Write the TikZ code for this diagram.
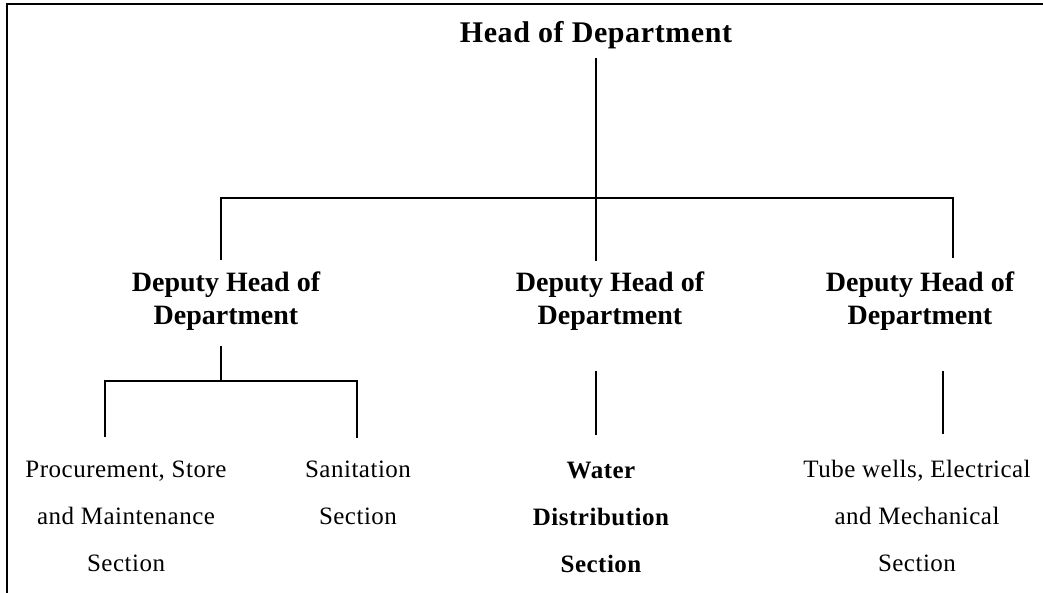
\documentclass[tikz,border=0pt]{standalone}
\usepackage{fontspec}
\setmainfont{Liberation Serif}
\begin{document}
\begin{tikzpicture}[x=1pt, y=-1pt,
  conn/.style={line width=1.8pt},
  headbox/.style={font=\bfseries\fontsize{30}{36}\selectfont\addfontfeature{LetterSpace=2}},
  deputybox/.style={font=\bfseries\fontsize{28}{33}\selectfont, align=center},
  secbox/.style={font=\fontsize{25}{47}\selectfont\addfontfeature{LetterSpace=2}, align=center},
  secboldbox/.style={secbox, font=\bfseries\fontsize{25}{47}\selectfont\addfontfeature{LetterSpace=2}}]
  \useasboundingbox (0,0) rectangle (1043,593);

  % Frame (only top and left edges show)
  \draw[line width=1.6pt] (7,593) -- (7,4) -- (1043,4);

  % Head of department
  \node[headbox, anchor=base] (head) at (596,43) {Head of Department};

  % Deputies
  \node[deputybox] (dep1) at (226,301) {Deputy Head of\\Department};
  \node[deputybox] (dep2) at (610,301) {Deputy Head of\\Department};
  \node[deputybox] (dep3) at (920,301) {Deputy Head of\\Department};

  % Sections
  \node[secbox] (sec1) at (126,516) {Procurement, Store\\and Maintenance\\Section};
  \node[secbox] (sec2) at (358,493) {Sanitation\\Section};
  \node[secboldbox] (sec3) at (601,517) {Water\\Distribution\\Section};
  \node[secbox] (sec4) at (917,516) {Tube wells, Electrical\\and Mechanical\\Section};

  % Bus under the head
  \coordinate (busL) at (221,198);
  \coordinate (busR) at (953,198);
  \draw[conn, shorten <=5pt, shorten >=7pt] (head.south) -- (head.south |- dep2.north);
  \draw[conn, shorten <=8pt, shorten >=10pt] (busL |- dep1.north) -- (busL) -- (busR) -- (busR |- dep3.north);

  % Bus under the first deputy
  \coordinate (subC) at (221,381);
  \coordinate (subL) at (105,381);
  \coordinate (subR) at (357,381);
  \draw[conn, shorten <=12pt] (subC |- dep1.south) -- (subC);
  \draw[conn, shorten <=20pt, shorten >=20pt] (subL |- sec1.north) -- (subL) -- (subR) -- (subR |- sec2.north);

  % Single links to the other sections
  \draw[conn, shorten <=37pt, shorten >=23pt] (dep2.south -| head) -- (sec3.north -| head);
  \draw[conn, shorten <=37pt, shorten >=23pt] ([xshift=23pt]dep3.south) -- ([xshift=26pt]sec4.north);
\end{tikzpicture}
\end{document}
